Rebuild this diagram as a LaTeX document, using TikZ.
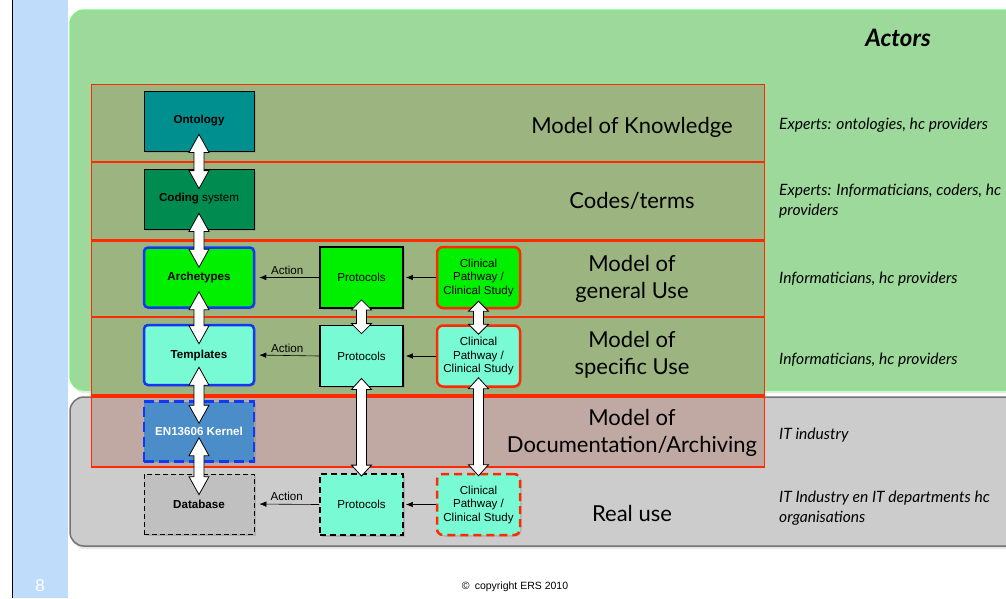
\documentclass[tikz,border=0pt]{standalone}
\usepackage{fontspec}
\setmainfont{Liberation Sans}
\newfontfamily\gill{Lato}
\usetikzlibrary{arrows.meta,shadows,calc}

\definecolor{sidebar}{HTML}{BFDCFB}
\definecolor{panelgreen}{HTML}{9CD99A}
\definecolor{panelgreenline}{HTML}{80F080}
\definecolor{panelgray}{HTML}{CCCCCC}
\definecolor{layerolive}{HTML}{9CB580}
\definecolor{layerbrown}{HTML}{C0A8A3}
\definecolor{layerred}{HTML}{FF2A00}
\definecolor{ontoteal}{HTML}{008F8F}
\definecolor{codegreen}{HTML}{008C50}
\definecolor{archgreen}{HTML}{00F000}
\definecolor{aqua}{HTML}{78FAD4}
\definecolor{kernelblue}{HTML}{4A8DC8}
\definecolor{boxblue}{HTML}{1436F5}
\definecolor{dbgray}{HTML}{C0C0C0}

\begin{document}
\begin{tikzpicture}[x=1pt, y=-1pt,
  box/.style={minimum width=110pt, minimum height=60pt, align=center, inner sep=1pt,
    font=\fontsize{11.6}{13.5}\selectfont,
    drop shadow={shadow xshift=1.5pt, shadow yshift=-1.5pt, opacity=.35}},
  kbox/.style={box, draw=black, line width=0.8pt},
  bluebox/.style={box, draw=boxblue, line width=2.5pt, rounded corners=4pt},
  protobox/.style={box, minimum width=83pt, minimum height=61pt, draw=black, line width=1.8pt},
  clinbox/.style={box, minimum width=83pt, minimum height=61pt, draw=layerred, line width=2.5pt, rounded corners=6pt},
  layerlabel/.style={align=center, inner sep=0pt, font=\gill\fontsize{22}{27}\selectfont},
  actor/.style={anchor=west, align=left, inner sep=0pt, font=\gill\itshape\fontsize{15.6}{20}\selectfont},
  act/.style={-{Latex[length=7pt,width=5.5pt]}, line width=0.6pt},
  actlabel/.style={above=3pt, inner sep=0pt, font=\fontsize{11.6}{12}\selectfont},
  fat/.style={draw=black, fill=white, line width=0.8pt, to path={
    let \p1=(\tikztostart), \p2=(\tikztotarget) in
    -- (\x1+10pt,\y1-#1) -- (\x1+5pt,\y1-#1) -- (\x1+5pt,\y2+#1) -- (\x1+10pt,\y2+#1)
    -- (\x1,\y2) -- (\x1-10pt,\y2+#1) -- (\x1-5pt,\y2+#1) -- (\x1-5pt,\y1-#1)
    -- (\x1-10pt,\y1-#1) -- cycle}},
  fat/.default=18pt]
\useasboundingbox (0,0) rectangle (1006,598);
\clip (0,0) rectangle (1006,598);

% side bar
\fill[sidebar] (12.5,0) rectangle (68,598);
\draw[line width=1pt] (12.5,0) -- (12.5,598);
\node[white, font=\fontsize{17}{17}\selectfont] (page) at (40,586) {8};

% panels
\draw[panelgreenline, fill=panelgreen, line width=1.5pt, rounded corners=14pt,
  drop shadow={shadow xshift=1pt, shadow yshift=-3pt, opacity=.2}] (70,10) rectangle (1040,390);
\draw[black!55, fill=panelgray, line width=1.5pt, rounded corners=14pt,
  drop shadow={shadow xshift=1pt, shadow yshift=-3pt, opacity=.2}] (70,397) rectangle (1040,546);
\node[font=\gill\bfseries\itshape\fontsize{24}{24}\selectfont] (actors) at (898,38) {Actors};

% layers
\fill[layerolive] (91,84) rectangle (764,396);
\fill[layerbrown] (91,396) rectangle (764,467);
\draw[layerred, line width=1pt] (91,467) -- (91,84) -- (764,84) -- (764,467);
\foreach \y/\w in {162/2, 240/3, 317/2, 396/3.2, 467/2.2}
  \draw[layerred, line width=\w pt] (91,\y) -- (765,\y);

\node[layerlabel] (lknow) at (632,127) {Model of Knowledge};
\node[layerlabel] (lcode) at (632,201) {Codes/terms};
\node[layerlabel] (lgen) at (632,279) {Model of\\general Use};
\node[layerlabel] (lspec) at (632,355) {Model of\\specific Use};
\node[layerlabel] (ldoc) at (632,433) {Model of\\Documentation/Archiving};
\node[layerlabel] (lreal) at (632,513) {Real use};

\node[actor] (aknow) at (779,125) {Experts: ontologies, hc providers};
\node[actor] (acode) at (779,201) {Experts: Informaticians, coders, hc\\providers};
\node[actor] (agen) at (779,279) {Informaticians, hc providers};
\node[actor] (aspec) at (779,360) {Informaticians, hc providers};
\node[actor] (adoc) at (779,435) {IT industry};
\node[actor] (areal) at (779,508) {IT Industry en IT departments hc\\organisations};

% left column
\node[kbox, fill=ontoteal, font=\bfseries\fontsize{11.6}{13.5}\selectfont] (onto) at (199,121) {Ontology};
\node[kbox, fill=codegreen] (coding) at (199,199) {\textbf{Coding} system};
\node[bluebox, fill=archgreen, font=\bfseries\fontsize{11.6}{13.5}\selectfont] (arch) at (199,277.5) {Archetypes};
\node[bluebox, fill=aqua, font=\bfseries\fontsize{11.6}{13.5}\selectfont] (tmpl) at (199,355) {Templates};
\node[bluebox, rounded corners=0pt, dash pattern=on 10pt off 5pt, fill=kernelblue, text=white,
  font=\bfseries\fontsize{11.6}{13.5}\selectfont] (kernel) at (199,431.5) {EN13606 Kernel};
\node[kbox, line width=0.7pt, dash pattern=on 5pt off 3pt, fill=dbgray,
  font=\bfseries\fontsize{11.6}{13.5}\selectfont] (db) at (199,504) {Database};

% protocols
\node[protobox, fill=archgreen] (prot3) at (361.5,277.5) {Protocols};
\node[protobox, fill=aqua] (prot4) at (361.5,356) {Protocols};
\node[protobox, dash pattern=on 6pt off 4pt, fill=aqua] (protr) at (361.5,504.5) {Protocols};

% clinical pathways
\node[clinbox, fill=archgreen] (clin3) at (478.5,277.5) {Clinical\\Pathway /\\Clinical Study};
\node[clinbox, fill=aqua] (clin4) at (478.5,356) {Clinical\\Pathway /\\Clinical Study};
\node[clinbox, dash pattern=on 8pt off 5pt, fill=aqua] (clinr) at (478.5,504.5) {Clinical\\Pathway /\\Clinical Study};

% actions
\draw[act, shorten >=4pt] (prot3.west) -- (arch.east) node[midway, actlabel] {Action};
\draw[act, shorten >=4pt] (prot4.west) -- (tmpl.east) node[midway, actlabel] {Action};
\draw[act, shorten >=5pt] (protr.west) -- (db.east) node[midway, actlabel] {Action};
\draw[act, shorten >=2pt] (clin3.west) -- (prot3.east);
\draw[act, shorten >=2pt] (clin4.west) -- (prot4.east);
\draw[act, shorten >=2pt] (clinr.west) -- (protr.east);

% white double arrows
\draw[fat] ([yshift=17pt]onto.south) to ([yshift=-20pt]coding.north);
\draw[fat] ([yshift=16pt]coding.south) to ([yshift=-21pt]arch.north);
\draw[fat] ([yshift=17pt]arch.south) to ([yshift=-20pt]tmpl.north);
\draw[fat] ([yshift=19pt]tmpl.south) to ([yshift=-23pt]kernel.north);
\draw[fat] ([yshift=25pt]kernel.south) to ([yshift=-21pt]db.north);
\draw[fat=10pt] ([yshift=9pt]prot3.south) to ([yshift=-9pt]prot4.north);
\draw[fat=11pt] ([yshift=9pt]prot4.south) to ([yshift=-3pt]protr.north);
\draw[fat=10pt] ([yshift=8pt]clin3.south) to ([yshift=-10pt]clin4.north);
\draw[fat=11pt] ([yshift=10pt]clin4.south) to ([yshift=-3pt]clinr.north);

\node[font=\fontsize{10.5}{12}\selectfont] (copy) at (515,587) {©\enspace copyright ERS 2010};
\end{tikzpicture}
\end{document}
